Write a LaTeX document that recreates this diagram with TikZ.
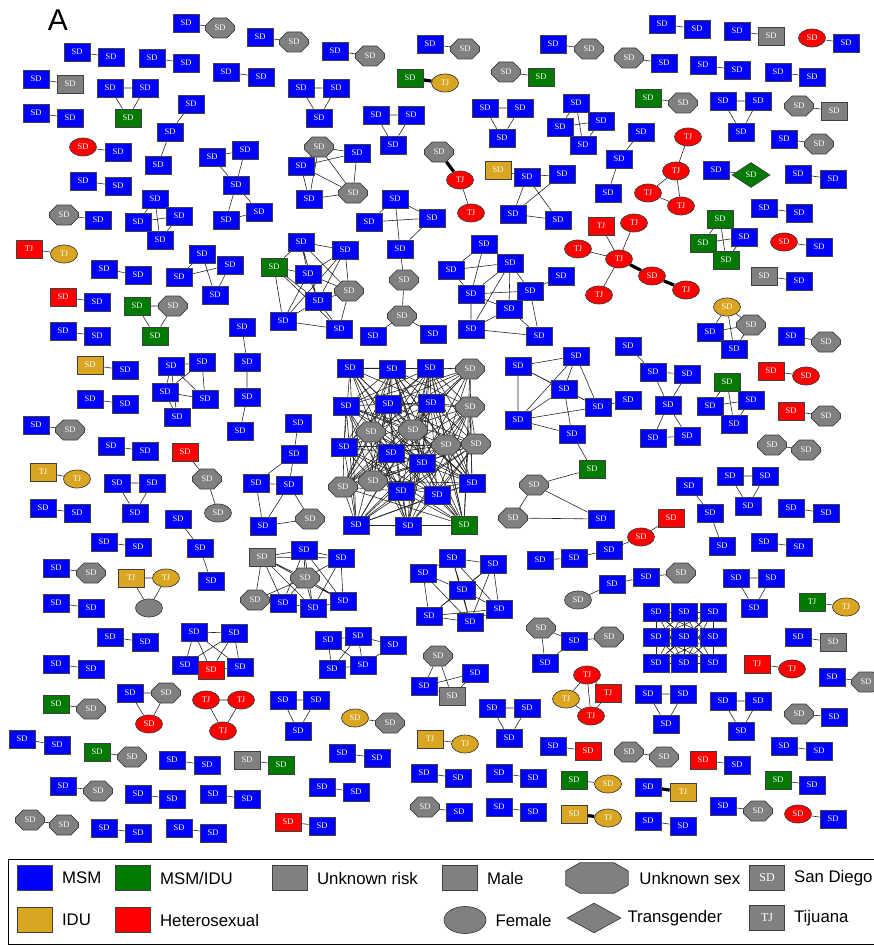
\documentclass[tikz,border=0pt]{standalone}
\usepackage{fontspec}
\setmainfont{Liberation Serif}
\newfontfamily\legendfont{Liberation Sans}
\usetikzlibrary{shapes.geometric, shapes.misc, positioning, backgrounds}

\definecolor{msmblue}{RGB}{0,0,255}
\definecolor{miGreen}{RGB}{0,122,0}
\definecolor{iduGold}{RGB}{218,165,32}
\definecolor{hetRed}{RGB}{255,0,0}
\definecolor{unkGray}{RGB}{128,128,128}
\newcommand{\nodefont}{\fontsize{8.5}{9}\selectfont}
\newcommand{\legfont}{\legendfont\fontsize{16.8}{19}\selectfont}

\begin{document}
\begin{tikzpicture} [
    x=1pt, y=-1pt,
    nd/.style={draw=black!75, line width=0.7pt, inner sep=0pt, text=white, font=\nodefont, minimum width=26pt, minimum height=18pt},
    msm/.style={nd, fill=msmblue},
    mi/.style={nd, fill=miGreen},
    idu/.style={nd, fill=iduGold},
    het/.style={nd, fill=hetRed},
    unk/.style={nd, fill=unkGray},
    fem/.style={ellipse, minimum width=27pt, minimum height=18pt},
    oct/.style={chamfered rectangle, chamfered rectangle xsep=6.5pt, chamfered rectangle ysep=4.8pt, minimum width=29pt, minimum height=20pt},
    trans/.style={diamond, minimum width=38pt, minimum height=25pt},
    uoct/.style={unk, oct},
    hfem/.style={het, fem},
    ifem/.style={idu, fem},
    ufem/.style={unk, fem},
    mdia/.style={mi, trans},
    link/.style={draw=black!85, line width=0.6pt},
    heavy/.style={draw=black, line width=3.2pt},
    legicon/.style={minimum width=35pt, minimum height=25pt, font=\fontsize{12}{14}\selectfont},
    legtext/.style={font=\legfont, inner sep=0pt}
]
    \useasboundingbox (0,0) rectangle (873,947);

    \node[font=\legendfont\fontsize{30}{32}\selectfont, inner sep=0pt] (panel) at (58,20) {A};

    % Dyads
    \node[msm] (p1a) at (186,23) {SD};   \node[uoct] (p1b) at (220,28) {SD};
    \node[msm] (p2a) at (260,37) {SD};   \node[uoct] (p2b) at (294,42) {SD};
    \node[msm] (p3a) at (335,51) {SD};   \node[uoct] (p3b) at (370,56) {SD};
    \node[msm] (p4a) at (430,44) {SD};   \node[uoct] (p4b) at (465,49) {SD};
    \node[msm] (p5a) at (553,44) {SD};   \node[uoct] (p5b) at (589,49) {SD};
    \node[msm] (p6a) at (662,24) {SD};   \node[msm] (p6b) at (697,29) {SD};
    \node[msm] (p7a) at (737,31) {SD};   \node[unk] (p7b) at (771,36) {SD};
    \node[hfem] (p8a) at (812,38) {SD};  \node[msm] (p8b) at (846,43) {SD};
    \node[msm] (p9a) at (77,52) {SD};    \node[msm] (p9b) at (111,57) {SD};
    \node[msm] (p10a) at (152,58) {SD};  \node[msm] (p10b) at (186,63) {SD};
    \node[msm] (p11a) at (226,72) {SD};  \node[msm] (p11b) at (261,77) {SD};
    \node[msm] (p12a) at (36,79) {SD};   \node[unk] (p12b) at (70,84) {SD};
    \node[uoct] (p13a) at (629,58) {SD}; \node[msm] (p13b) at (664,63) {SD};
    \node[msm] (p14a) at (703,65) {SD};  \node[msm] (p14b) at (737,70) {SD};
    \node[msm] (p15a) at (778,72) {SD};  \node[msm] (p15b) at (812,77) {SD};
    \node[mi] (p16a) at (410,78) {SD};   \node[ifem] (p16b) at (445,83) {TJ};
    \node[uoct] (p17a) at (506,72) {SD}; \node[mi] (p17b) at (541,77) {SD};
    \node[mi] (p18a) at (648,98) {SD};   \node[uoct] (p18b) at (683,103) {SD};
    \node[uoct] (p19a) at (799,106) {SD}; \node[unk] (p19b) at (834,111) {SD};
    \node[msm] (p20a) at (36,113) {SD};  \node[msm] (p20b) at (70,118) {SD};
    \node[msm] (p21a) at (784,139) {SD}; \node[uoct] (p21b) at (819,144) {SD};
    \node[hfem] (p22a) at (83,147) {SD}; \node[msm] (p22b) at (118,152) {SD};
    \node[msm] (p23a) at (716,170) {SD}; \node[mdia] (p23b) at (751,175) {SD};
    \node[msm] (p24a) at (798,174) {SD}; \node[msm] (p24b) at (833,179) {SD};
    \node[msm] (p25a) at (83,181) {SD};  \node[msm] (p25b) at (118,186) {SD};
    \node[msm] (p26a) at (764,208) {SD}; \node[msm] (p26b) at (799,213) {SD};
    \node[uoct] (p27a) at (64,215) {SD}; \node[msm] (p27b) at (98,220) {SD};
    \node[hfem] (p28a) at (784,242) {SD}; \node[msm] (p28b) at (819,247) {SD};
    \node[het] (p29a) at (29,249) {TJ};  \node[ifem] (p29b) at (64,254) {TJ};
    \node[msm] (p30a) at (104,269) {SD}; \node[msm] (p30b) at (138,275) {SD};
    \node[unk] (p31a) at (764,276) {SD}; \node[msm] (p31b) at (799,281) {SD};
    \node[het] (p32a) at (63,297) {SD};  \node[msm] (p32b) at (97,302) {SD};
    \node[msm] (p33a) at (63,331) {SD};  \node[msm] (p33b) at (97,336) {SD};
    \node[msm] (p34a) at (791,336) {SD}; \node[uoct] (p34b) at (826,342) {SD};
    \node[idu] (p35a) at (90,365) {SD};  \node[msm] (p35b) at (125,370) {SD};
    \node[het] (p36a) at (771,371) {SD}; \node[hfem] (p36b) at (806,376) {SD};
    \node[msm] (p37a) at (90,399) {SD};  \node[msm] (p37b) at (125,404) {SD};
    \node[het] (p38a) at (791,411) {SD}; \node[uoct] (p38b) at (826,416) {SD};
    \node[msm] (p39a) at (36,425) {SD};  \node[uoct] (p39b) at (70,430) {SD};
    \node[msm] (p40a) at (111,446) {SD}; \node[msm] (p40b) at (145,451) {SD};
    \node[uoct] (p41a) at (772,445) {SD}; \node[uoct] (p41b) at (806,450) {SD};
    \node[idu] (p42a) at (43,472) {TJ};  \node[ifem] (p42b) at (77,479) {TJ};
    \node[msm] (p43a) at (43,508) {SD};  \node[msm] (p43b) at (77,513) {SD};
    \node[msm] (p44a) at (791,508) {SD}; \node[msm] (p44b) at (826,513) {SD};
    \node[msm] (p45a) at (104,542) {SD}; \node[msm] (p45b) at (138,547) {SD};
    \node[msm] (p46a) at (764,542) {SD}; \node[msm] (p46b) at (799,547) {SD};
    \node[msm] (p47a) at (56,568) {SD};  \node[uoct] (p47b) at (91,573) {SD};
    \node[mi] (p48a) at (812,602) {TJ};  \node[ifem] (p48b) at (846,607) {TJ};
    \node[msm] (p49a) at (56,603) {SD};  \node[msm] (p49b) at (91,608) {SD};
    \node[msm] (p50a) at (110,637) {SD}; \node[msm] (p50b) at (145,642) {SD};
    \node[msm] (p51a) at (798,637) {SD}; \node[unk] (p51b) at (833,642) {SD};
    \node[msm] (p52a) at (56,664) {SD};  \node[msm] (p52b) at (91,669) {SD};
    \node[het] (p53a) at (757,664) {TJ}; \node[hfem] (p53b) at (792,669) {TJ};
    \node[msm] (p54a) at (832,677) {SD}; \node[uoct] (p54b) at (866,682) {SD};
    \node[mi] (p55a) at (56,704) {SD};   \node[uoct] (p55b) at (91,709) {SD};
    \node[uoct] (p56a) at (799,714) {SD}; \node[msm] (p56b) at (834,717) {SD};
    \node[ifem] (p57a) at (355,718) {SD}; \node[uoct] (p57b) at (390,723) {SD};
    \node[msm] (p58a) at (22,739) {SD};  \node[msm] (p58b) at (57,745) {SD};
    \node[idu] (p59a) at (430,739) {TJ}; \node[ifem] (p59b) at (465,744) {TJ};
    \node[msm] (p60a) at (553,746) {SD}; \node[het] (p60b) at (588,751) {SD};
    \node[msm] (p61a) at (784,746) {SD}; \node[msm] (p61b) at (819,751) {SD};
    \node[mi] (p62a) at (97,752) {SD};   \node[uoct] (p62b) at (132,757) {SD};
    \node[uoct] (p63a) at (629,752) {SD}; \node[uoct] (p63b) at (664,757) {SD};
    \node[msm] (p64a) at (342,753) {SD}; \node[msm] (p64b) at (377,758) {SD};
    \node[msm] (p65a) at (172,760) {SD}; \node[msm] (p65b) at (207,765) {SD};
    \node[unk] (p66a) at (247,760) {SD}; \node[mi] (p66b) at (281,765) {SD};
    \node[het] (p67a) at (703,760) {SD}; \node[msm] (p67b) at (737,765) {SD};
    \node[msm] (p68a) at (424,773) {SD}; \node[msm] (p68b) at (458,778) {SD};
    \node[msm] (p69a) at (499,773) {SD}; \node[msm] (p69b) at (533,778) {SD};
    \node[mi] (p70a) at (574,780) {SD};  \node[ifem] (p70b) at (608,784) {SD};
    \node[mi] (p71a) at (778,780) {SD};  \node[msm] (p71b) at (812,785) {SD};
    \node[msm] (p72a) at (63,786) {SD};  \node[uoct] (p72b) at (98,791) {SD};
    \node[msm] (p73a) at (322,787) {SD}; \node[msm] (p73b) at (356,792) {SD};
    \node[msm] (p74a) at (648,787) {SD}; \node[idu] (p74b) at (683,792) {TJ};
    \node[msm] (p75a) at (138,794) {SD}; \node[msm] (p75b) at (172,799) {SD};
    \node[msm] (p76a) at (213,794) {SD}; \node[msm] (p76b) at (247,799) {SD};
    \node[uoct] (p77a) at (425,807) {SD}; \node[msm] (p77b) at (459,812) {SD};
    \node[msm] (p78a) at (499,807) {SD}; \node[msm] (p78b) at (533,812) {SD};
    \node[msm] (p79a) at (723,806) {SD}; \node[uoct] (p79b) at (758,811) {SD};
    \node[idu] (p80a) at (574,814) {SD}; \node[ifem] (p80b) at (608,818) {TJ};
    \node[hfem] (p81a) at (798,814) {SD}; \node[msm] (p81b) at (833,819) {SD};
    \node[uoct] (p82a) at (30,820) {SD}; \node[uoct] (p82b) at (64,825) {SD};
    \node[msm] (p83a) at (104,828) {SD}; \node[msm] (p83b) at (138,833) {SD};
    \node[msm] (p84a) at (179,828) {SD}; \node[msm] (p84b) at (213,833) {SD};
    \node[het] (p85a) at (288,822) {SD}; \node[msm] (p85b) at (322,826) {SD};
    \node[msm] (p86a) at (648,821) {SD}; \node[msm] (p86b) at (683,826) {SD};

    % Triads
    \node[msm] (t1a) at (110,88) {SD};   \node[msm] (t1b) at (145,88) {SD};   \node[mi] (t1c) at (128,118) {SD};
    \node[msm] (t2a) at (301,88) {SD};   \node[msm] (t2b) at (336,88) {SD};   \node[msm] (t2c) at (319,118) {SD};
    \node[msm] (t3a) at (723,101) {SD};  \node[msm] (t3b) at (758,101) {SD};  \node[msm] (t3c) at (741,132) {SD};
    \node[msm] (t4a) at (376,115) {SD};  \node[msm] (t4b) at (411,115) {SD};  \node[msm] (t4c) at (393,145) {SD};
    \node[msm] (t5a) at (485,108) {SD};  \node[msm] (t5b) at (520,108) {SD};  \node[msm] (t5c) at (502,138) {SD};
    \node[mi] (t6a) at (137,306) {SD};   \node[uoct] (t6b) at (173,306) {SD}; \node[mi] (t6c) at (155,336) {SD};
    \node[msm] (t7a) at (117,483) {SD};  \node[msm] (t7b) at (152,483) {SD};  \node[msm] (t7c) at (135,513) {SD};
    \node[msm] (t8a) at (730,476) {SD};  \node[msm] (t8b) at (765,476) {SD};  \node[msm] (t8c) at (748,506) {SD};
    \node[idu] (t9a) at (131,578) {TJ};  \node[ifem] (t9b) at (166,578) {TJ}; \node[ufem] (t9c) at (149,608) {};
    \node[msm] (t10a) at (736,578) {SD}; \node[msm] (t10b) at (771,578) {SD}; \node[msm] (t10c) at (754,608) {SD};
    \node[msm] (t11a) at (130,693) {SD}; \node[uoct] (t11b) at (166,693) {SD}; \node[hfem] (t11c) at (149,724) {SD};
    \node[hfem] (t12a) at (206,700) {TJ}; \node[hfem] (t12b) at (241,700) {TJ}; \node[hfem] (t12c) at (223,731) {TJ};
    \node[msm] (t13a) at (283,700) {SD}; \node[msm] (t13b) at (316,700) {SD}; \node[msm] (t13c) at (298,731) {SD};
    \node[msm] (t14a) at (648,694) {SD}; \node[msm] (t14b) at (683,694) {SD}; \node[msm] (t14c) at (666,724) {SD};
    \node[msm] (t15a) at (723,701) {SD}; \node[msm] (t15b) at (758,701) {SD}; \node[msm] (t15c) at (741,731) {SD};
    \node[msm] (t16a) at (492,708) {SD}; \node[msm] (t16b) at (527,708) {SD}; \node[msm] (t16c) at (509,738) {SD};

    % Chains
    \node[msm] (h1a) at (191,104) {SD}; \node[msm] (h1b) at (170,132) {SD}; \node[msm] (h1c) at (158,165) {SD};
    \node[msm] (h2a) at (641,132) {SD}; \node[msm] (h2b) at (619,159) {SD}; \node[msm] (h2c) at (608,193) {SD};
    \node[uoct] (h3a) at (439,152) {SD}; \node[hfem] (h3b) at (460,180) {TJ}; \node[hfem] (h3c) at (471,213) {TJ};
    \node[het] (h4a) at (185,452) {SD}; \node[uoct] (h4b) at (207,479) {SD}; \node[ufem] (h4c) at (218,513) {SD};
    \node[msm] (h5a) at (689,486) {SD}; \node[msm] (h5b) at (710,513) {SD}; \node[msm] (h5c) at (722,546) {SD};
    \node[msm] (h6a) at (178,519) {SD}; \node[msm] (h6b) at (200,548) {SD}; \node[msm] (h6c) at (211,581) {SD};
    \node[msm] (h7a) at (242,327) {SD}; \node[msm] (h7b) at (247,362) {SD}; \node[msm] (h7c) at (247,397) {SD}; \node[msm] (h7d) at (240,431) {SD};
    \node[msm] (h8a) at (540,560) {SD}; \node[msm] (h8b) at (574,558) {SD}; \node[msm] (h8c) at (609,550) {SD};
    \node[hfem] (h8d) at (641,537) {SD}; \node[het] (h8e) at (671,518) {SD};
    \node[ufem] (h9a) at (578,600) {SD}; \node[msm] (h9b) at (612,584) {SD}; \node[msm] (h9c) at (646,577) {SD}; \node[uoct] (h9d) at (681,573) {SD};

    % Small clusters
    \node[msm] (k1) at (576,103) {SD}; \node[msm] (k2) at (560,127) {SD};
    \node[msm] (k3) at (601,121) {SD}; \node[msm] (k4) at (583,145) {SD};

    \node[hfem] (j1) at (688,137) {TJ}; \node[hfem] (j2) at (676,171) {TJ};
    \node[hfem] (j3) at (648,193) {TJ}; \node[hfem] (j4) at (681,206) {TJ};

    \node[uoct] (oa1) at (319,147) {SD}; \node[msm] (oa2) at (357,153) {SD}; \node[msm] (oa3) at (301,166) {SD};
    \node[msm] (oa4) at (309,199) {SD}; \node[uoct] (oa5) at (353,193) {SD};

    \node[msm] (ob1) at (212,157) {SD}; \node[msm] (ob2) at (245,150) {SD}; \node[msm] (ob3) at (236,185) {SD};
    \node[msm] (ob4) at (226,220) {SD}; \node[msm] (ob5) at (259,212) {SD};

    \node[idu] (oc1) at (498,170) {SD}; \node[msm] (oc2) at (527,177) {SD}; \node[msm] (oc3) at (562,174) {SD};
    \node[msm] (oc4) at (513,214) {SD}; \node[msm] (oc5) at (558,220) {SD};

    \node[msm] (od1) at (155,199) {SD}; \node[msm] (od2) at (138,222) {SD};
    \node[msm] (od3) at (179,216) {SD}; \node[msm] (od4) at (160,240) {SD};

    \node[msm] (oe1) at (395,199) {SD}; \node[msm] (oe2) at (369,222) {SD}; \node[msm] (oe3) at (432,218) {SD};
    \node[msm] (oe4) at (400,249) {SD}; \node[uoct] (oe5) at (404,280) {SD}; \node[uoct] (oe6) at (402,316) {SD};
    \node[msm] (oe7) at (373,336) {SD}; \node[msm] (oe8) at (433,334) {SD};

    \node[het] (of1) at (601,226) {TJ}; \node[hfem] (of2) at (634,223) {TJ}; \node[hfem] (of3) at (578,249) {TJ};
    \node[hfem] (of4) at (619,259) {TJ}; \node[hfem] (of5) at (652,276) {SD}; \node[hfem] (of6) at (686,290) {TJ};
    \node[hfem] (of7) at (599,295) {TJ};

    \node[mi] (og1) at (720,219) {SD}; \node[mi] (og2) at (703,243) {SD};
    \node[msm] (og3) at (744,237) {SD}; \node[mi] (og4) at (726,260) {SD};

    \node[msm] (oh1) at (202,254) {SD}; \node[msm] (oh2) at (230,265) {SD};
    \node[msm] (oh3) at (179,277) {SD}; \node[msm] (oh4) at (215,295) {SD};

    \node[msm] (oi1) at (301,242) {SD}; \node[msm] (oi2) at (345,250) {SD}; \node[mi] (oi3) at (274,267) {SD};
    \node[msm] (oi4) at (308,274) {SD}; \node[uoct] (oi5) at (349,291) {SD}; \node[msm] (oi6) at (318,301) {SD};
    \node[msm] (oi7) at (283,321) {SD}; \node[msm] (oi8) at (339,329) {SD};

    \node[msm] (oj1) at (484,244) {SD}; \node[msm] (oj2) at (451,270) {SD}; \node[msm] (oj3) at (510,263) {SD};
    \node[msm] (oj4) at (471,294) {SD}; \node[msm] (oj5) at (530,291) {SD}; \node[msm] (oj6) at (561,276) {SD};
    \node[msm] (oj7) at (509,309) {SD}; \node[msm] (oj8) at (471,329) {SD}; \node[msm] (oj9) at (539,336) {SD};

    \node[ifem] (ok1) at (727,307) {SD}; \node[uoct] (ok2) at (751,325) {SD};
    \node[msm] (ok3) at (710,332) {SD}; \node[msm] (ok4) at (734,349) {SD};

    \node[msm] (ol1) at (628,346) {SD}; \node[msm] (ol2) at (653,372) {SD}; \node[msm] (ol3) at (687,374) {SD};
    \node[msm] (ol4) at (668,405) {SD}; \node[msm] (ol5) at (653,438) {SD}; \node[msm] (ol6) at (687,436) {SD};

    \node[msm] (om1) at (171,366) {SD}; \node[msm] (om2) at (202,362) {SD}; \node[msm] (om3) at (165,392) {SD};
    \node[msm] (om4) at (205,399) {SD}; \node[msm] (om5) at (177,417) {SD};

    \node[msm] (on1) at (518,366) {SD}; \node[msm] (on2) at (576,356) {SD}; \node[msm] (on3) at (564,389) {SD};
    \node[msm] (on4) at (518,420) {SD}; \node[msm] (on5) at (598,407) {SD}; \node[msm] (on6) at (628,400) {SD};
    \node[msm] (on7) at (572,434) {SD}; \node[mi] (on8) at (592,469) {SD};

    \node[mi] (oo1) at (727,382) {SD}; \node[msm] (oo2) at (710,406) {SD};
    \node[msm] (oo3) at (751,400) {SD}; \node[msm] (oo4) at (734,424) {SD};

    \node[msm] (op1) at (298,423) {SD}; \node[msm] (op2) at (294,454) {SD}; \node[msm] (op3) at (289,485) {SD};
    \node[msm] (op4) at (256,483) {SD}; \node[msm] (op5) at (263,526) {SD}; \node[uoct] (op6) at (310,519) {SD};

    \node[uoct] (oq1) at (534,485) {SD}; \node[uoct] (oq2) at (513,518) {SD}; \node[msm] (oq3) at (601,519) {SD};

    \node[unk] (or1) at (262,557) {SD}; \node[msm] (or2) at (304,550) {SD}; \node[msm] (or3) at (341,558) {SD};
    \node[uoct] (or4) at (305,578) {SD}; \node[uoct] (or5) at (255,600) {SD}; \node[msm] (or6) at (283,603) {SD};
    \node[msm] (or7) at (313,608) {SD}; \node[msm] (or8) at (343,601) {SD};

    \node[msm] (os1) at (452,558) {SD}; \node[msm] (os2) at (493,564) {SD}; \node[msm] (os3) at (423,573) {SD};
    \node[msm] (os4) at (462,590) {SD}; \node[msm] (os5) at (499,609) {SD}; \node[msm] (os6) at (429,616) {SD};
    \node[msm] (os7) at (470,622) {SD};

    \node[uoct] (ot1) at (541,628) {SD}; \node[msm] (ot2) at (574,641) {SD};
    \node[msm] (ot3) at (545,663) {SD}; \node[uoct] (ot4) at (609,637) {SD};

    \node[msm] (ou1) at (194,632) {SD}; \node[msm] (ou2) at (234,633) {SD}; \node[msm] (ou3) at (185,665) {SD};
    \node[het] (ou4) at (211,670) {SD}; \node[msm] (ou5) at (240,667) {SD};

    \node[msm] (ov1) at (328,640) {SD}; \node[msm] (ov2) at (358,636) {SD}; \node[msm] (ov3) at (393,645) {SD};
    \node[msm] (ov4) at (332,669) {SD}; \node[msm] (ov5) at (363,665) {SD};

    \node[uoct] (ow1) at (438,656) {SD}; \node[msm] (ow2) at (475,673) {SD};
    \node[msm] (ow3) at (424,686) {SD}; \node[unk] (ow4) at (452,696) {SD};

    \node[hfem] (ox1) at (587,675) {TJ}; \node[ifem] (ox2) at (566,699) {TJ};
    \node[het] (ox3) at (608,693) {TJ}; \node[hfem] (ox4) at (591,716) {TJ};

    % Grid block
    \node[msm] (q1) at (656,612) {SD}; \node[msm] (q2) at (684,612) {SD}; \node[msm] (q3) at (713,612) {SD};
    \node[msm] (q4) at (656,637) {SD}; \node[msm] (q5) at (684,637) {SD}; \node[msm] (q6) at (713,637) {SD};
    \node[msm] (q7) at (656,663) {SD}; \node[msm] (q8) at (684,663) {SD}; \node[msm] (q9) at (713,663) {SD};

    % Central dense cluster
    \node[msm] (c1) at (350,368) {SD}; \node[msm] (c2) at (392,369) {SD}; \node[msm] (c3) at (430,368) {SD};
    \node[uoct] (c4) at (470,369) {SD}; \node[msm] (c5) at (346,406) {SD}; \node[msm] (c6) at (388,404) {SD};
    \node[msm] (c7) at (431,403) {SD}; \node[uoct] (c8) at (470,407) {SD}; \node[uoct] (c9) at (371,432) {SD};
    \node[uoct] (c10) at (413,430) {SD}; \node[uoct] (c11) at (446,445) {SD}; \node[uoct] (c12) at (476,444) {SD};
    \node[msm] (c13) at (344,447) {SD}; \node[msm] (c14) at (391,453) {SD}; \node[msm] (c15) at (422,463) {SD};
    \node[uoct] (c16) at (343,487) {SD}; \node[uoct] (c17) at (373,481) {SD}; \node[msm] (c18) at (401,491) {SD};
    \node[msm] (c19) at (437,495) {SD}; \node[msm] (c20) at (472,483) {SD}; \node[msm] (c21) at (356,525) {SD};
    \node[msm] (c22) at (408,526) {SD}; \node[mi] (c23) at (464,525) {SD};

    % Links
    \begin{scope}[on background layer]
        \foreach \pp in {1,...,86}
            \draw[link] (p\pp a) -- (p\pp b);
        \foreach \pp in {16,74,80}
            \draw[heavy] (p\pp a) -- (p\pp b);
        \foreach \tr in {1,...,16}
            \draw[link] (t\tr a) -- (t\tr b) -- (t\tr c) -- (t\tr a);

        \draw[link] (h1a) -- (h1b) -- (h1c);
        \draw[link] (h2a) -- (h2b) -- (h2c);
        \draw[heavy] (h3a) -- (h3b);
        \draw[link] (h3b) -- (h3c);
        \draw[link] (h4a) -- (h4b) -- (h4c);
        \draw[link] (h5a) -- (h5b) -- (h5c);
        \draw[link] (h6a) -- (h6b) -- (h6c);
        \draw[link] (h7a) -- (h7b) -- (h7c) -- (h7d);
        \draw[link] (h8a) -- (h8b) -- (h8c) -- (h8d) -- (h8e);
        \draw[link] (h9a) -- (h9b) -- (h9c) -- (h9d);

        \draw[link] (k1) -- (k2) (k1) -- (k3) (k1) -- (k4) (k2) -- (k3) (k3) -- (k4) (k2) -- (k4);
        \draw[link] (j1) -- (j2) (j2) -- (j3) (j2) -- (j4) (j3) -- (j4);
        \draw[link] (oa1) -- (oa2) (oa1) -- (oa3) (oa1) -- (oa5) (oa1) -- (oa4) (oa2) -- (oa3)
            (oa2) -- (oa5) (oa3) -- (oa5) (oa3) -- (oa4) (oa4) -- (oa5);
        \draw[link] (ob1) -- (ob2) (ob1) -- (ob3) (ob2) -- (ob3) (ob3) -- (ob4) (ob3) -- (ob5) (ob4) -- (ob5);
        \draw[link] (oc1) -- (oc2) (oc2) -- (oc3) (oc2) -- (oc4) (oc2) -- (oc5) (oc3) -- (oc4) (oc4) -- (oc5);
        \draw[link] (od1) -- (od2) (od1) -- (od3) (od1) -- (od4) (od2) -- (od3) (od2) -- (od4) (od3) -- (od4);
        \draw[link] (oe1) -- (oe2) (oe1) -- (oe3) (oe2) -- (oe3) (oe1) -- (oe4) (oe3) -- (oe4)
            (oe4) -- (oe5) (oe5) -- (oe6) (oe6) -- (oe7) (oe6) -- (oe8);
        \draw[link] (of1) -- (of4) (of2) -- (of4) (of3) -- (of4) (of4) -- (of7);
        \draw[heavy] (of4) -- (of5) (of5) -- (of6);
        \draw[link] (og1) -- (og2) (og1) -- (og3) (og1) -- (og4) (og2) -- (og3) (og3) -- (og4) (og2) -- (og4);
        \draw[link] (oh1) -- (oh3) (oh1) -- (oh4) (oh2) -- (oh3) (oh2) -- (oh4);
        \draw[link] (oi1) -- (oi2) (oi1) -- (oi3) (oi1) -- (oi4) (oi1) -- (oi5) (oi1) -- (oi6) (oi2) -- (oi4)
            (oi2) -- (oi5) (oi2) -- (oi6) (oi2) -- (oi7) (oi3) -- (oi4) (oi3) -- (oi6) (oi3) -- (oi7)
            (oi3) -- (oi8) (oi4) -- (oi5) (oi4) -- (oi6) (oi4) -- (oi7) (oi5) -- (oi6) (oi5) -- (oi8)
            (oi6) -- (oi7) (oi6) -- (oi8) (oi7) -- (oi8);
        \draw[link] (oj1) -- (oj2) (oj1) -- (oj3) (oj1) -- (oj4) (oj2) -- (oj3) (oj2) -- (oj4) (oj3) -- (oj4)
            (oj3) -- (oj5) (oj3) -- (oj7) (oj3) -- (oj8) (oj4) -- (oj5) (oj4) -- (oj8) (oj5) -- (oj6)
            (oj5) -- (oj7) (oj5) -- (oj9) (oj7) -- (oj8) (oj7) -- (oj9) (oj8) -- (oj9) (oj4) -- (oj7);
        \draw[link] (ok1) -- (ok2) (ok1) -- (ok3) (ok1) -- (ok4) (ok2) -- (ok3) (ok2) -- (ok4);
        \draw[link] (ol1) -- (ol2) (ol2) -- (ol3) (ol2) -- (ol4) (ol3) -- (ol4) (ol4) -- (ol5) (ol4) -- (ol6) (ol5) -- (ol6);
        \draw[link] (om1) -- (om2) (om1) -- (om3) (om1) -- (om4) (om1) -- (om5) (om2) -- (om3)
            (om2) -- (om4) (om3) -- (om4) (om3) -- (om5);
        \draw[link] (on1) -- (on2) (on1) -- (on3) (on1) -- (on4) (on1) -- (on5) (on2) -- (on3) (on2) -- (on4)
            (on2) -- (on5) (on3) -- (on4) (on3) -- (on5) (on3) -- (on7) (on4) -- (on5) (on4) -- (on7)
            (on5) -- (on6) (on7) -- (on8);
        \draw[link] (oo1) -- (oo2) (oo1) -- (oo4) (oo2) -- (oo3) (oo3) -- (oo4) (oo2) -- (oo4) (oo1) -- (oo3);
        \draw[link] (op1) -- (op2) (op2) -- (op3) (op2) -- (op4) (op3) -- (op4) (op4) -- (op5)
            (op3) -- (op5) (op3) -- (op6) (op5) -- (op6);
        \draw[link] (oq1) -- (on8) (oq1) -- (oq2) (oq1) -- (oq3) (oq2) -- (oq3);
        \draw[link] (or1) -- (or2) (or1) -- (or3) (or1) -- (or4) (or1) -- (or5) (or1) -- (or6) (or1) -- (or7)
            (or1) -- (or8) (or2) -- (or3) (or2) -- (or4) (or2) -- (or6) (or2) -- (or7) (or2) -- (or8)
            (or3) -- (or4) (or3) -- (or7) (or3) -- (or8) (or4) -- (or5) (or4) -- (or6) (or4) -- (or7)
            (or4) -- (or8) (or5) -- (or6) (or6) -- (or7) (or7) -- (or8);
        \draw[link] (os1) -- (os2) (os1) -- (os3) (os1) -- (os4) (os1) -- (os5) (os1) -- (os7) (os2) -- (os4)
            (os2) -- (os5) (os2) -- (os6) (os2) -- (os7) (os3) -- (os4) (os3) -- (os6) (os3) -- (os7)
            (os4) -- (os5) (os4) -- (os6) (os4) -- (os7) (os5) -- (os6) (os5) -- (os7) (os6) -- (os7);
        \draw[link] (ot1) -- (ot2) (ot1) -- (ot3) (ot2) -- (ot3) (ot2) -- (ot4);
        \draw[link] (ou1) -- (ou2) (ou1) -- (ou3) (ou1) -- (ou4) (ou1) -- (ou5) (ou2) -- (ou3)
            (ou2) -- (ou4) (ou2) -- (ou5) (ou3) -- (ou4) (ou4) -- (ou5);
        \draw[link] (ov1) -- (ov2) (ov1) -- (ov4) (ov1) -- (ov5) (ov2) -- (ov4) (ov2) -- (ov5)
            (ov2) -- (ov3) (ov4) -- (ov5) (ov3) -- (ov5);
        \draw[link] (ow1) -- (ow3) (ow1) -- (ow4) (ow2) -- (ow3) (ow3) -- (ow4) (ow2) -- (ow4);
        \draw[link] (ox1) -- (ox2) (ox1) -- (ox3) (ox1) -- (ox4) (ox2) -- (ox4) (ox3) -- (ox4);

        \foreach \ia in {1,...,8} {
            \pgfmathtruncatemacro\ib{\ia+1}
            \foreach \jb in {\ib,...,9}
                \draw[link] (q\ia) -- (q\jb);
        }

        \pgfmathsetseed{42}
        \foreach \ia in {1,...,22} {
            \pgfmathtruncatemacro\ib{\ia+1}
            \foreach \jb in {\ib,...,23} {
                \pgfmathtruncatemacro\keep{rnd<0.6}
                \ifnum\keep=1 \draw[link] (c\ia) -- (c\jb); \fi
            }
        }
    \end{scope}

    % Legend
    \draw[line width=1pt] (8,859) -- (880,859) (8,859) -- (8,944) -- (880,944);
    \node[msm, legicon] (lmsm) at (35,878) {};
    \node[legtext, right=9pt of lmsm] (tmsm) {MSM};
    \node[mi, legicon] (lmi) at (133,878) {};
    \node[legtext, right=9pt of lmi] (tmi) {MSM/IDU};
    \node[unk, legicon] (lunk) at (290,878) {};
    \node[legtext, right=9pt of lunk] (tunk) {Unknown risk};
    \node[unk, legicon] (lmale) at (460,878) {};
    \node[legtext, right=9pt of lmale] (tmale) {Male};
    \node[inner sep=0pt, minimum width=62pt, minimum height=30pt] (lsex) at (597,878) {};
    \draw[fill=unkGray, draw=black!75, line width=0.7pt]
        ([xshift=14pt]lsex.north west) -- ([xshift=-14pt]lsex.north east)
        -- ([yshift=-8pt]lsex.north east) -- ([yshift=8pt]lsex.south east)
        -- ([xshift=-14pt]lsex.south east) -- ([xshift=14pt]lsex.south west)
        -- ([yshift=8pt]lsex.south west) -- ([yshift=-8pt]lsex.north west) -- cycle;
    \node[legtext, right=11pt of lsex] (tsex) {Unknown sex};
    \node[unk, legicon] (lsd) at (767,878) {SD};
    \node[legtext, right=9pt of lsd] (tsd) {San Diego};
    \node[idu, legicon] (lidu) at (35,920) {};
    \node[legtext, right=9pt of lidu] (tidu) {IDU};
    \node[het, legicon] (lhet) at (133,920) {};
    \node[legtext, right=9pt of lhet] (thet) {Heterosexual};
    \node[ufem, minimum width=42pt, minimum height=27pt] (lfem) at (465,920) {};
    \node[legtext, right=9pt of lfem] (tfem) {Female};
    \node[unk, trans, minimum width=54pt, minimum height=30pt] (ltrans) at (594,918) {};
    \node[legtext, right=6pt of ltrans] (ttrans) {Transgender};
    \node[unk, legicon] (ltj) at (767,918) {TJ};
    \node[legtext, right=9pt of ltj] (ttj) {Tijuana};

\end{tikzpicture}
\end{document}
